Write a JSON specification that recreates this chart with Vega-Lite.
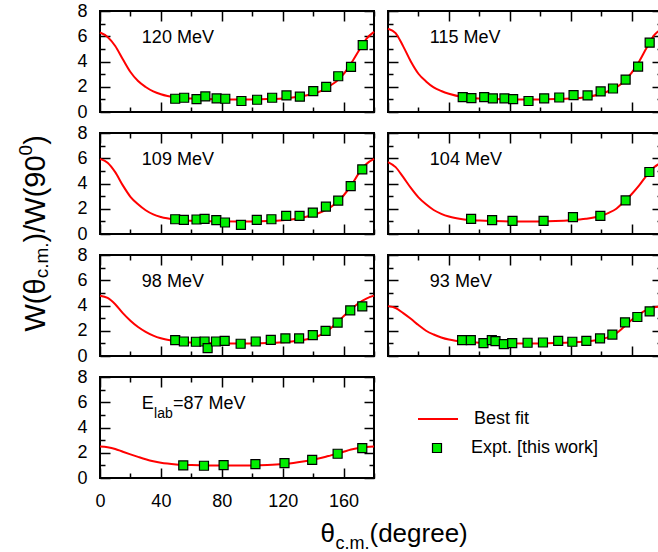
{
"$schema": "https://vega.github.io/schema/vega-lite/v6.json",
"autosize": {"type": "pad"},
"padding": {"left": 15, "top": 1, "right": -3, "bottom": 0},
"config": {
  "font": "Liberation Sans",
  "view": {"stroke": "black", "strokeWidth": 2},
  "axis": {"grid": false, "domain": false, "tickColor": "black", "tickWidth": 1.5, "labelColor": "black", "labelFont": "Liberation Sans", "labelFontSize": 18, "labelOverlap": false, "labelFlush": false, "titleFont": "Liberation Sans", "titleColor": "black", "titleFontWeight": "normal"},
  "legend": {"labelFont": "Liberation Sans", "labelFontSize": 18, "labelColor": "black"},
  "text": {"font": "Liberation Sans", "fontSize": 18, "color": "black"}
},
"datasets": {
  "labels": [
    {"E": 120, "label": "120 MeV"}, {"E": 115, "label": "115 MeV"}, {"E": 109, "label": "109 MeV"}, {"E": 104, "label": "104 MeV"},
    {"E": 98, "label": "98 MeV"}, {"E": 93, "label": "93 MeV"}, {"E": 87, "label": "=87 MeV", "sym": "E", "sub": "lab"}
  ],
  "expt": [
    {"E":120,"t":49.4,"W":1.05},{"E":120,"t":55.3,"W":1.13},{"E":120,"t":63.4,"W":1.02},{"E":120,"t":69.2,"W":1.23},{"E":120,"t":76.6,"W":1.08},{"E":120,"t":82.3,"W":1.05},{"E":120,"t":92.9,"W":0.87},{"E":120,"t":103.2,"W":0.97},{"E":120,"t":113.1,"W":1.13},{"E":120,"t":122.5,"W":1.31},{"E":120,"t":131.3,"W":1.21},{"E":120,"t":140.1,"W":1.65},{"E":120,"t":148.6,"W":1.99},{"E":120,"t":156.5,"W":2.83},{"E":120,"t":164.9,"W":3.57},{"E":120,"t":172.6,"W":5.30},
    {"E":115,"t":49.1,"W":1.18},{"E":115,"t":54.8,"W":1.10},{"E":115,"t":63.2,"W":1.18},{"E":115,"t":68.9,"W":1.08},{"E":115,"t":76.5,"W":1.08},{"E":115,"t":82.2,"W":1.02},{"E":115,"t":92.3,"W":0.87},{"E":115,"t":102.6,"W":1.08},{"E":115,"t":112.5,"W":1.15},{"E":115,"t":121.9,"W":1.34},{"E":115,"t":131.1,"W":1.31},{"E":115,"t":139.7,"W":1.63},{"E":115,"t":147.8,"W":1.86},{"E":115,"t":156.1,"W":2.57},{"E":115,"t":164.3,"W":3.60},{"E":115,"t":171.9,"W":5.49},
    {"E":109,"t":49.4,"W":1.17},{"E":109,"t":55.1,"W":1.12},{"E":109,"t":63.4,"W":1.15},{"E":109,"t":68.7,"W":1.20},{"E":109,"t":76.4,"W":1.10},{"E":109,"t":82.1,"W":0.91},{"E":109,"t":92.6,"W":0.73},{"E":109,"t":103.0,"W":1.12},{"E":109,"t":112.6,"W":1.17},{"E":109,"t":122.3,"W":1.44},{"E":109,"t":131.1,"W":1.44},{"E":109,"t":139.8,"W":1.70},{"E":109,"t":148.4,"W":2.17},{"E":109,"t":156.5,"W":2.64},{"E":109,"t":164.7,"W":3.79},{"E":109,"t":172.3,"W":5.12},
    {"E":104,"t":54.6,"W":1.20},{"E":104,"t":68.4,"W":1.10},{"E":104,"t":81.8,"W":1.04},{"E":104,"t":102.2,"W":1.04},{"E":104,"t":121.5,"W":1.33},{"E":104,"t":139.5,"W":1.44},{"E":104,"t":156.1,"W":2.66},{"E":104,"t":171.7,"W":4.91},
    {"E":98,"t":49.4,"W":1.26},{"E":98,"t":55.1,"W":1.15},{"E":98,"t":63.0,"W":1.13},{"E":98,"t":68.7,"W":1.15},{"E":98,"t":70.7,"W":0.63},{"E":98,"t":76.2,"W":1.15},{"E":98,"t":81.9,"W":1.20},{"E":98,"t":92.4,"W":0.97},{"E":98,"t":102.3,"W":1.15},{"E":98,"t":112.2,"W":1.28},{"E":98,"t":121.8,"W":1.39},{"E":98,"t":130.8,"W":1.39},{"E":98,"t":139.8,"W":1.65},{"E":98,"t":148.2,"W":1.99},{"E":98,"t":156.1,"W":2.64},{"E":98,"t":164.4,"W":3.61},{"E":98,"t":172.3,"W":3.93},
    {"E":93,"t":48.7,"W":1.26},{"E":93,"t":54.4,"W":1.26},{"E":93,"t":62.7,"W":1.02},{"E":93,"t":68.2,"W":1.26},{"E":93,"t":70.6,"W":1.18},{"E":93,"t":76.1,"W":0.94},{"E":93,"t":81.6,"W":1.02},{"E":93,"t":91.7,"W":1.05},{"E":93,"t":101.8,"W":1.07},{"E":93,"t":111.8,"W":1.20},{"E":93,"t":121.1,"W":1.13},{"E":93,"t":130.3,"W":1.20},{"E":93,"t":139.3,"W":1.39},{"E":93,"t":147.4,"W":1.70},{"E":93,"t":155.7,"W":2.67},{"E":93,"t":163.8,"W":3.09},{"E":93,"t":171.9,"W":3.53},
    {"E":87,"t":54.7,"W":1.0},{"E":87,"t":68.3,"W":0.97},{"E":87,"t":81.2,"W":1.02},{"E":87,"t":102.1,"W":1.10},{"E":87,"t":121.2,"W":1.18},{"E":87,"t":139.4,"W":1.44},{"E":87,"t":156.1,"W":1.92},{"E":87,"t":172.3,"W":2.36}
  ],
  "fit": [
    {"E":120,"t":0,"W":6.3},{"E":120,"t":5,"W":5.95},{"E":120,"t":10,"W":5.23},{"E":120,"t":15,"W":4.18},{"E":120,"t":20,"W":3.17},{"E":120,"t":25,"W":2.45},{"E":120,"t":30,"W":1.98},{"E":120,"t":35,"W":1.63},{"E":120,"t":40,"W":1.4},{"E":120,"t":50,"W":1.15},{"E":120,"t":60,"W":1.06},{"E":120,"t":70,"W":1.02},{"E":120,"t":80,"W":1.0},{"E":120,"t":90,"W":1.0},{"E":120,"t":100,"W":1.0},{"E":120,"t":110,"W":1.02},{"E":120,"t":120,"W":1.07},{"E":120,"t":130,"W":1.2},{"E":120,"t":140,"W":1.44},{"E":120,"t":145,"W":1.65},{"E":120,"t":150,"W":2.0},{"E":120,"t":155,"W":2.4},{"E":120,"t":160,"W":3.0},{"E":120,"t":165,"W":3.85},{"E":120,"t":170,"W":4.85},{"E":120,"t":175,"W":5.8},{"E":120,"t":180,"W":6.35},
    {"E":115,"t":0,"W":6.6},{"E":115,"t":5,"W":6.25},{"E":115,"t":10,"W":5.2},{"E":115,"t":15,"W":4.0},{"E":115,"t":20,"W":3.03},{"E":115,"t":25,"W":2.42},{"E":115,"t":30,"W":1.95},{"E":115,"t":35,"W":1.66},{"E":115,"t":40,"W":1.44},{"E":115,"t":50,"W":1.17},{"E":115,"t":60,"W":1.06},{"E":115,"t":70,"W":1.02},{"E":115,"t":80,"W":1.0},{"E":115,"t":90,"W":1.0},{"E":115,"t":100,"W":1.0},{"E":115,"t":110,"W":1.02},{"E":115,"t":120,"W":1.06},{"E":115,"t":130,"W":1.17},{"E":115,"t":140,"W":1.44},{"E":115,"t":145,"W":1.66},{"E":115,"t":150,"W":1.95},{"E":115,"t":155,"W":2.42},{"E":115,"t":160,"W":3.1},{"E":115,"t":165,"W":4.0},{"E":115,"t":170,"W":5.1},{"E":115,"t":175,"W":6.1},{"E":115,"t":180,"W":6.6},
    {"E":109,"t":0,"W":5.95},{"E":109,"t":5,"W":5.65},{"E":109,"t":10,"W":4.9},{"E":109,"t":15,"W":3.85},{"E":109,"t":20,"W":2.95},{"E":109,"t":25,"W":2.35},{"E":109,"t":30,"W":1.88},{"E":109,"t":35,"W":1.55},{"E":109,"t":40,"W":1.35},{"E":109,"t":50,"W":1.14},{"E":109,"t":60,"W":1.05},{"E":109,"t":70,"W":1.01},{"E":109,"t":80,"W":1.0},{"E":109,"t":90,"W":1.0},{"E":109,"t":100,"W":1.0},{"E":109,"t":110,"W":1.02},{"E":109,"t":120,"W":1.08},{"E":109,"t":130,"W":1.22},{"E":109,"t":140,"W":1.5},{"E":109,"t":145,"W":1.72},{"E":109,"t":150,"W":2.0},{"E":109,"t":155,"W":2.45},{"E":109,"t":160,"W":3.05},{"E":109,"t":165,"W":3.85},{"E":109,"t":170,"W":4.8},{"E":109,"t":175,"W":5.55},{"E":109,"t":180,"W":5.95},
    {"E":104,"t":0,"W":5.7},{"E":104,"t":5,"W":5.3},{"E":104,"t":10,"W":4.5},{"E":104,"t":15,"W":3.65},{"E":104,"t":20,"W":2.9},{"E":104,"t":25,"W":2.35},{"E":104,"t":30,"W":1.9},{"E":104,"t":35,"W":1.6},{"E":104,"t":40,"W":1.38},{"E":104,"t":50,"W":1.15},{"E":104,"t":60,"W":1.06},{"E":104,"t":70,"W":1.02},{"E":104,"t":80,"W":1.0},{"E":104,"t":90,"W":1.0},{"E":104,"t":100,"W":1.0},{"E":104,"t":110,"W":1.02},{"E":104,"t":120,"W":1.08},{"E":104,"t":130,"W":1.2},{"E":104,"t":140,"W":1.45},{"E":104,"t":145,"W":1.68},{"E":104,"t":150,"W":2.0},{"E":104,"t":155,"W":2.55},{"E":104,"t":160,"W":3.15},{"E":104,"t":165,"W":3.85},{"E":104,"t":170,"W":4.65},{"E":104,"t":175,"W":5.3},{"E":104,"t":180,"W":5.7},
    {"E":98,"t":0,"W":4.78},{"E":98,"t":5,"W":4.6},{"E":98,"t":10,"W":4.1},{"E":98,"t":15,"W":3.4},{"E":98,"t":20,"W":2.8},{"E":98,"t":25,"W":2.3},{"E":98,"t":30,"W":1.92},{"E":98,"t":35,"W":1.62},{"E":98,"t":40,"W":1.4},{"E":98,"t":50,"W":1.16},{"E":98,"t":60,"W":1.06},{"E":98,"t":70,"W":1.02},{"E":98,"t":80,"W":1.0},{"E":98,"t":90,"W":1.0},{"E":98,"t":100,"W":1.0},{"E":98,"t":110,"W":1.02},{"E":98,"t":120,"W":1.08},{"E":98,"t":130,"W":1.2},{"E":98,"t":140,"W":1.45},{"E":98,"t":145,"W":1.68},{"E":98,"t":150,"W":2.05},{"E":98,"t":155,"W":2.55},{"E":98,"t":160,"W":3.15},{"E":98,"t":165,"W":3.7},{"E":98,"t":170,"W":4.2},{"E":98,"t":175,"W":4.55},{"E":98,"t":180,"W":4.78},
    {"E":93,"t":0,"W":3.95},{"E":93,"t":5,"W":3.8},{"E":93,"t":10,"W":3.4},{"E":93,"t":15,"W":2.95},{"E":93,"t":20,"W":2.45},{"E":93,"t":25,"W":2.0},{"E":93,"t":30,"W":1.7},{"E":93,"t":35,"W":1.47},{"E":93,"t":40,"W":1.3},{"E":93,"t":50,"W":1.12},{"E":93,"t":60,"W":1.05},{"E":93,"t":70,"W":1.01},{"E":93,"t":80,"W":1.0},{"E":93,"t":90,"W":1.0},{"E":93,"t":100,"W":1.0},{"E":93,"t":110,"W":1.02},{"E":93,"t":120,"W":1.06},{"E":93,"t":130,"W":1.15},{"E":93,"t":140,"W":1.32},{"E":93,"t":145,"W":1.5},{"E":93,"t":150,"W":1.8},{"E":93,"t":155,"W":2.3},{"E":93,"t":160,"W":2.85},{"E":93,"t":165,"W":3.3},{"E":93,"t":170,"W":3.65},{"E":93,"t":175,"W":3.85},{"E":93,"t":180,"W":3.95},
    {"E":87,"t":0,"W":2.5},{"E":87,"t":5,"W":2.44},{"E":87,"t":10,"W":2.3},{"E":87,"t":15,"W":2.08},{"E":87,"t":20,"W":1.87},{"E":87,"t":25,"W":1.67},{"E":87,"t":30,"W":1.48},{"E":87,"t":35,"W":1.32},{"E":87,"t":40,"W":1.2},{"E":87,"t":50,"W":1.07},{"E":87,"t":60,"W":1.02},{"E":87,"t":70,"W":1.0},{"E":87,"t":80,"W":1.0},{"E":87,"t":90,"W":1.0},{"E":87,"t":100,"W":1.0},{"E":87,"t":110,"W":1.03},{"E":87,"t":120,"W":1.1},{"E":87,"t":130,"W":1.25},{"E":87,"t":140,"W":1.45},{"E":87,"t":145,"W":1.58},{"E":87,"t":150,"W":1.74},{"E":87,"t":155,"W":1.9},{"E":87,"t":160,"W":2.08},{"E":87,"t":165,"W":2.25},{"E":87,"t":170,"W":2.37},{"E":87,"t":175,"W":2.45},{"E":87,"t":180,"W":2.49}
  ]
},
"columns": 2,
"spacing": {"row": 21, "column": 14},
"bounds": "flush",
"concat": [
  {"width": 274, "height": 101, "resolve": {"axis": {"x": "independent", "y": "independent"}},
   "layer": [
    {"data": {"name": "fit"}, "transform": [{"filter": "datum.E === 120"}],
     "mark": {"type": "line", "stroke": "red", "strokeWidth": 2, "interpolate": "monotone"},
     "encoding": {
      "x": {"field": "t", "type": "quantitative", "scale": {"domain": [0, 180], "nice": false}, "axis": {"orient": "bottom", "values": [0,20,40,60,80,100,120,140,160,180], "tickSize": {"condition": {"test": "datum.value % 40 === 0", "value": -10}, "value": -5}, "labels": false, "title": null}},
      "y": {"field": "W", "type": "quantitative", "scale": {"domain": [0, 8], "nice": false}, "axis": {"orient": "left", "values": [0,1,2,3,4,5,6,7,8], "tickSize": {"condition": {"test": "datum.value % 2 === 0", "value": -10}, "value": -5}, "labelExpr": "datum.value % 2 === 0 ? datum.label : ''", "labelPadding": 23, "title": ")", "titleFontSize": 29, "titleAngle": 270, "titleAlign": "left", "titleBaseline": "alphabetic", "titleX": -56, "titleY": 133.3}}
     }},
    {"data": {"name": "expt"}, "transform": [{"filter": "datum.E === 120"}],
     "mark": {"type": "point", "shape": "square", "filled": true, "fill": "#00ee00", "stroke": "black", "strokeWidth": 1.2, "size": 81, "opacity": 1},
     "encoding": {
      "x": {"field": "t", "type": "quantitative", "axis": {"orient": "top", "values": [0,20,40,60,80,100,120,140,160,180], "tickSize": {"condition": {"test": "datum.value % 40 === 0", "value": -10}, "value": -5}, "labels": false, "title": null}},
      "y": {"field": "W", "type": "quantitative", "axis": {"orient": "right", "values": [0,1,2,3,4,5,6,7,8], "tickSize": {"condition": {"test": "datum.value % 2 === 0", "value": -10}, "value": -5}, "labels": false, "title": null}}
     }},
    {"data": {"name": "labels"}, "transform": [{"filter": "datum.E === 120"}],
     "mark": {"type": "text", "align": "left", "baseline": "alphabetic"},
     "encoding": {"x": {"datum": 27.5, "type": "quantitative", "axis": null}, "y": {"datum": 5.45, "type": "quantitative", "axis": null}, "text": {"field": "label"}}}
   ]},
  {"width": 274, "height": 101, "resolve": {"axis": {"x": "independent", "y": "independent"}},
   "layer": [
    {"data": {"name": "fit"}, "transform": [{"filter": "datum.E === 115"}],
     "mark": {"type": "line", "stroke": "red", "strokeWidth": 2, "interpolate": "monotone"},
     "encoding": {
      "x": {"field": "t", "type": "quantitative", "scale": {"domain": [0, 180], "nice": false}, "axis": {"orient": "bottom", "values": [0,20,40,60,80,100,120,140,160,180], "tickSize": {"condition": {"test": "datum.value % 40 === 0", "value": -10}, "value": -5}, "labels": false, "title": null}},
      "y": {"field": "W", "type": "quantitative", "scale": {"domain": [0, 8], "nice": false}, "axis": {"orient": "left", "values": [0,1,2,3,4,5,6,7,8], "tickSize": {"condition": {"test": "datum.value % 2 === 0", "value": -10}, "value": -5}, "labels": false, "title": null}}
     }},
    {"data": {"name": "expt"}, "transform": [{"filter": "datum.E === 115"}],
     "mark": {"type": "point", "shape": "square", "filled": true, "fill": "#00ee00", "stroke": "black", "strokeWidth": 1.2, "size": 81, "opacity": 1},
     "encoding": {
      "x": {"field": "t", "type": "quantitative", "axis": {"orient": "top", "values": [0,20,40,60,80,100,120,140,160,180], "tickSize": {"condition": {"test": "datum.value % 40 === 0", "value": -10}, "value": -5}, "labels": false, "title": null}},
      "y": {"field": "W", "type": "quantitative", "axis": {"orient": "right", "values": [0,1,2,3,4,5,6,7,8], "tickSize": {"condition": {"test": "datum.value % 2 === 0", "value": -10}, "value": -5}, "labels": false, "title": null}}
     }},
    {"data": {"name": "labels"}, "transform": [{"filter": "datum.E === 115"}],
     "mark": {"type": "text", "align": "left", "baseline": "alphabetic"},
     "encoding": {"x": {"datum": 27.5, "type": "quantitative", "axis": null}, "y": {"datum": 5.45, "type": "quantitative", "axis": null}, "text": {"field": "label"}}}
   ]},
  {"width": 274, "height": 101, "resolve": {"axis": {"x": "independent", "y": "independent"}},
   "layer": [
    {"data": {"name": "fit"}, "transform": [{"filter": "datum.E === 109"}],
     "mark": {"type": "line", "stroke": "red", "strokeWidth": 2, "interpolate": "monotone"},
     "encoding": {
      "x": {"field": "t", "type": "quantitative", "scale": {"domain": [0, 180], "nice": false}, "axis": {"orient": "bottom", "values": [0,20,40,60,80,100,120,140,160,180], "tickSize": {"condition": {"test": "datum.value % 40 === 0", "value": -10}, "value": -5}, "labels": false, "title": null}},
      "y": {"field": "W", "type": "quantitative", "scale": {"domain": [0, 8], "nice": false}, "axis": {"orient": "left", "values": [0,1,2,3,4,5,6,7,8], "tickSize": {"condition": {"test": "datum.value % 2 === 0", "value": -10}, "value": -5}, "labelExpr": "datum.value % 2 === 0 ? datum.label : ''", "labelPadding": 23, "title": ")/W(90", "titleFontSize": 29, "titleAngle": 270, "titleAlign": "left", "titleBaseline": "alphabetic", "titleX": -56, "titleY": 108.9}}
     }},
    {"data": {"name": "expt"}, "transform": [{"filter": "datum.E === 109"}],
     "mark": {"type": "point", "shape": "square", "filled": true, "fill": "#00ee00", "stroke": "black", "strokeWidth": 1.2, "size": 81, "opacity": 1},
     "encoding": {
      "x": {"field": "t", "type": "quantitative", "axis": {"orient": "top", "values": [0,20,40,60,80,100,120,140,160,180], "tickSize": {"condition": {"test": "datum.value % 40 === 0", "value": -10}, "value": -5}, "labels": false, "title": null}},
      "y": {"field": "W", "type": "quantitative", "axis": {"orient": "right", "values": [0,1,2,3,4,5,6,7,8], "tickSize": {"condition": {"test": "datum.value % 2 === 0", "value": -10}, "value": -5}, "labels": false, "title": "0", "titleFontSize": 19, "titleAngle": 270, "titleAlign": "left", "titleBaseline": "alphabetic", "titleX": -343, "titleY": 21.9}}
     }},
    {"data": {"name": "labels"}, "transform": [{"filter": "datum.E === 109"}],
     "mark": {"type": "text", "align": "left", "baseline": "alphabetic"},
     "encoding": {"x": {"datum": 27.5, "type": "quantitative", "axis": null}, "y": {"datum": 5.45, "type": "quantitative", "axis": null}, "text": {"field": "label"}}}
   ]},
  {"width": 274, "height": 101, "resolve": {"axis": {"x": "independent", "y": "independent"}},
   "layer": [
    {"data": {"name": "fit"}, "transform": [{"filter": "datum.E === 104"}],
     "mark": {"type": "line", "stroke": "red", "strokeWidth": 2, "interpolate": "monotone"},
     "encoding": {
      "x": {"field": "t", "type": "quantitative", "scale": {"domain": [0, 180], "nice": false}, "axis": {"orient": "bottom", "values": [0,20,40,60,80,100,120,140,160,180], "tickSize": {"condition": {"test": "datum.value % 40 === 0", "value": -10}, "value": -5}, "labels": false, "title": null}},
      "y": {"field": "W", "type": "quantitative", "scale": {"domain": [0, 8], "nice": false}, "axis": {"orient": "left", "values": [0,1,2,3,4,5,6,7,8], "tickSize": {"condition": {"test": "datum.value % 2 === 0", "value": -10}, "value": -5}, "labels": false, "title": null}}
     }},
    {"data": {"name": "expt"}, "transform": [{"filter": "datum.E === 104"}],
     "mark": {"type": "point", "shape": "square", "filled": true, "fill": "#00ee00", "stroke": "black", "strokeWidth": 1.2, "size": 81, "opacity": 1},
     "encoding": {
      "x": {"field": "t", "type": "quantitative", "axis": {"orient": "top", "values": [0,20,40,60,80,100,120,140,160,180], "tickSize": {"condition": {"test": "datum.value % 40 === 0", "value": -10}, "value": -5}, "labels": false, "title": null}},
      "y": {"field": "W", "type": "quantitative", "axis": {"orient": "right", "values": [0,1,2,3,4,5,6,7,8], "tickSize": {"condition": {"test": "datum.value % 2 === 0", "value": -10}, "value": -5}, "labels": false, "title": null}}
     }},
    {"data": {"name": "labels"}, "transform": [{"filter": "datum.E === 104"}],
     "mark": {"type": "text", "align": "left", "baseline": "alphabetic"},
     "encoding": {"x": {"datum": 27.5, "type": "quantitative", "axis": null}, "y": {"datum": 5.45, "type": "quantitative", "axis": null}, "text": {"field": "label"}}}
   ]},
  {"width": 274, "height": 101, "resolve": {"axis": {"x": "independent", "y": "independent"}},
   "layer": [
    {"data": {"name": "fit"}, "transform": [{"filter": "datum.E === 98"}],
     "mark": {"type": "line", "stroke": "red", "strokeWidth": 2, "interpolate": "monotone"},
     "encoding": {
      "x": {"field": "t", "type": "quantitative", "scale": {"domain": [0, 180], "nice": false}, "axis": {"orient": "bottom", "values": [0,20,40,60,80,100,120,140,160,180], "tickSize": {"condition": {"test": "datum.value % 40 === 0", "value": -10}, "value": -5}, "labels": false, "title": null}},
      "y": {"field": "W", "type": "quantitative", "scale": {"domain": [0, 8], "nice": false}, "axis": {"orient": "left", "values": [0,1,2,3,4,5,6,7,8], "tickSize": {"condition": {"test": "datum.value % 2 === 0", "value": -10}, "value": -5}, "labelExpr": "datum.value % 2 === 0 ? datum.label : ''", "labelPadding": 23, "title": "W(θ", "titleFontSize": 29, "titleAngle": 270, "titleAlign": "left", "titleBaseline": "alphabetic", "titleX": -56, "titleY": 76}}
     }},
    {"data": {"name": "expt"}, "transform": [{"filter": "datum.E === 98"}],
     "mark": {"type": "point", "shape": "square", "filled": true, "fill": "#00ee00", "stroke": "black", "strokeWidth": 1.2, "size": 81, "opacity": 1},
     "encoding": {
      "x": {"field": "t", "type": "quantitative", "axis": {"orient": "top", "values": [0,20,40,60,80,100,120,140,160,180], "tickSize": {"condition": {"test": "datum.value % 40 === 0", "value": -10}, "value": -5}, "labels": false, "title": null}},
      "y": {"field": "W", "type": "quantitative", "axis": {"orient": "right", "values": [0,1,2,3,4,5,6,7,8], "tickSize": {"condition": {"test": "datum.value % 2 === 0", "value": -10}, "value": -5}, "labels": false, "title": "c.m.", "titleFontSize": 19, "titleAngle": 270, "titleAlign": "left", "titleBaseline": "alphabetic", "titleX": -327, "titleY": 22.8}}
     }},
    {"data": {"name": "labels"}, "transform": [{"filter": "datum.E === 98"}],
     "mark": {"type": "text", "align": "left", "baseline": "alphabetic"},
     "encoding": {"x": {"datum": 27.5, "type": "quantitative", "axis": null}, "y": {"datum": 5.45, "type": "quantitative", "axis": null}, "text": {"field": "label"}}}
   ]},
  {"width": 274, "height": 101, "resolve": {"axis": {"x": "independent", "y": "independent"}},
   "layer": [
    {"data": {"name": "fit"}, "transform": [{"filter": "datum.E === 93"}],
     "mark": {"type": "line", "stroke": "red", "strokeWidth": 2, "interpolate": "monotone"},
     "encoding": {
      "x": {"field": "t", "type": "quantitative", "scale": {"domain": [0, 180], "nice": false}, "axis": {"orient": "bottom", "values": [0,20,40,60,80,100,120,140,160,180], "tickSize": {"condition": {"test": "datum.value % 40 === 0", "value": -10}, "value": -5}, "labels": false, "title": null}},
      "y": {"field": "W", "type": "quantitative", "scale": {"domain": [0, 8], "nice": false}, "axis": {"orient": "left", "values": [0,1,2,3,4,5,6,7,8], "tickSize": {"condition": {"test": "datum.value % 2 === 0", "value": -10}, "value": -5}, "labels": false, "title": null}}
     }},
    {"data": {"name": "expt"}, "transform": [{"filter": "datum.E === 93"}],
     "mark": {"type": "point", "shape": "square", "filled": true, "fill": "#00ee00", "stroke": "black", "strokeWidth": 1.2, "size": 81, "opacity": 1},
     "encoding": {
      "x": {"field": "t", "type": "quantitative", "axis": {"orient": "top", "values": [0,20,40,60,80,100,120,140,160,180], "tickSize": {"condition": {"test": "datum.value % 40 === 0", "value": -10}, "value": -5}, "labels": false, "title": null}},
      "y": {"field": "W", "type": "quantitative", "axis": {"orient": "right", "values": [0,1,2,3,4,5,6,7,8], "tickSize": {"condition": {"test": "datum.value % 2 === 0", "value": -10}, "value": -5}, "labels": false, "title": null}}
     }},
    {"data": {"name": "labels"}, "transform": [{"filter": "datum.E === 93"}],
     "mark": {"type": "text", "align": "left", "baseline": "alphabetic"},
     "encoding": {"x": {"datum": 27.5, "type": "quantitative", "axis": null}, "y": {"datum": 5.45, "type": "quantitative", "axis": null}, "text": {"field": "label"}}}
   ]},
  {"width": 274, "height": 101, "resolve": {"axis": {"x": "independent", "y": "independent"}},
   "layer": [
    {"data": {"name": "fit"}, "transform": [{"filter": "datum.E === 87"}],
     "mark": {"type": "line", "strokeWidth": 2, "interpolate": "monotone"},
     "encoding": {
      "x": {"field": "t", "type": "quantitative", "scale": {"domain": [0, 180], "nice": false}, "axis": {"orient": "bottom", "values": [0,20,40,60,80,100,120,140,160,180], "tickSize": {"condition": {"test": "datum.value % 40 === 0", "value": -10}, "value": -5}, "labelExpr": "datum.value % 40 === 0 && datum.value < 180 ? datum.label : ''", "labelPadding": 24, "title": "θ", "titleFontSize": 26, "titleAngle": 0, "titleAlign": "left", "titleBaseline": "alphabetic", "titleX": 220, "titleY": 63}},
      "y": {"field": "W", "type": "quantitative", "scale": {"domain": [0, 8], "nice": false}, "axis": {"orient": "left", "values": [0,1,2,3,4,5,6,7,8], "tickSize": {"condition": {"test": "datum.value % 2 === 0", "value": -10}, "value": -5}, "labelExpr": "datum.value % 2 === 0 ? datum.label : ''", "labelPadding": 23, "title": null}},
      "stroke": {"datum": "Best fit", "type": "nominal", "scale": {"range": ["red"]}, "legend": {"orient": "none", "legendX": 317, "legendY": 387, "title": null, "symbolType": "stroke", "symbolSize": 1600, "symbolStrokeWidth": 2, "labelOffset": 15}}
     }},
    {"data": {"name": "expt"}, "transform": [{"filter": "datum.E === 87"}],
     "mark": {"type": "point", "shape": "square", "filled": true, "stroke": "black", "strokeWidth": 1.2, "size": 81, "opacity": 1},
     "encoding": {
      "x": {"field": "t", "type": "quantitative", "axis": {"orient": "top", "values": [0,20,40,60,80,100,120,140,160,180], "tickSize": {"condition": {"test": "datum.value % 40 === 0", "value": -10}, "value": -5}, "labels": false, "title": "c.m.", "titleFontSize": 18, "titleAngle": 0, "titleAlign": "left", "titleBaseline": "alphabetic", "titleX": 235, "titleY": 171}},
      "y": {"field": "W", "type": "quantitative", "axis": {"orient": "right", "values": [0,1,2,3,4,5,6,7,8], "tickSize": {"condition": {"test": "datum.value % 2 === 0", "value": -10}, "value": -5}, "labels": false, "title": "(degree)", "titleFontSize": 26, "titleAngle": 0, "titleAlign": "left", "titleBaseline": "alphabetic", "titleX": -5, "titleY": 164}},
      "fill": {"datum": "Expt. [this work]", "type": "nominal", "scale": {"range": ["#00ee00"]}, "legend": {"orient": "none", "legendX": 328, "legendY": 428, "title": null, "symbolType": "square", "symbolSize": 81, "symbolStrokeColor": "black", "symbolStrokeWidth": 1.2, "labelOffset": 25}}
     }},
    {"data": {"name": "labels"}, "transform": [{"filter": "datum.E === 87"}],
     "mark": {"type": "text", "align": "left", "baseline": "alphabetic"},
     "encoding": {"x": {"datum": 27.5, "type": "quantitative", "axis": null}, "y": {"datum": 5.45, "type": "quantitative", "axis": null}, "text": {"field": "sym"}}},
    {"data": {"name": "labels"}, "transform": [{"filter": "datum.E === 87"}],
     "mark": {"type": "text", "align": "left", "baseline": "alphabetic", "fontSize": 14},
     "encoding": {"x": {"datum": 35.5, "type": "quantitative", "axis": null}, "y": {"datum": 4.74, "type": "quantitative", "axis": null}, "text": {"field": "sub"}}},
    {"data": {"name": "labels"}, "transform": [{"filter": "datum.E === 87"}],
     "mark": {"type": "text", "align": "left", "baseline": "alphabetic"},
     "encoding": {"x": {"datum": 48.0, "type": "quantitative", "axis": null}, "y": {"datum": 5.45, "type": "quantitative", "axis": null}, "text": {"field": "label"}}}
   ]}
]
}
